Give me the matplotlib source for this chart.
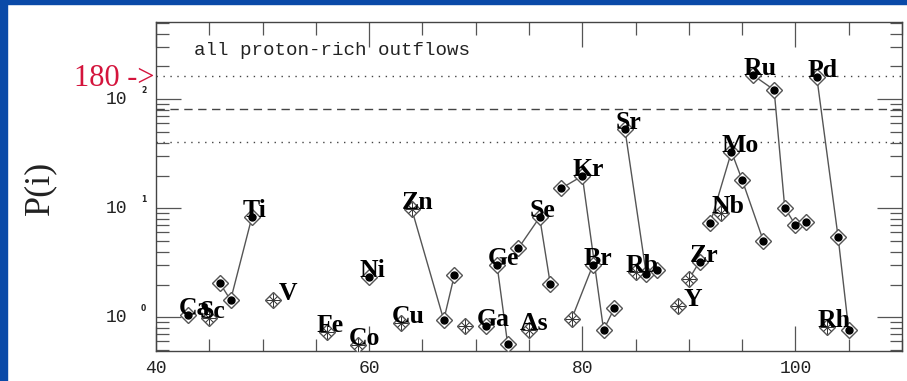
import matplotlib
matplotlib.use("Agg")
import matplotlib.pyplot as plt
import matplotlib.transforms as mtransforms
from matplotlib.patches import Rectangle
from matplotlib.ticker import MultipleLocator, LogLocator, NullFormatter, FixedLocator

# isotopes drawn with a filled dot (mass number, production factor)
dot_A = [43, 46, 47, 49, 60, 67, 68, 71, 72, 73, 74, 76, 77, 78, 80, 81, 82, 83,
         84, 86, 87, 91, 92, 94, 95, 97, 96, 98, 99, 100, 101, 102, 104, 105]
dot_P = [1.05, 2.05, 1.44, 8.3, 2.36, 0.945, 2.44, 0.84, 3.02, 0.565, 4.3, 8.27, 2.02,
         15.2, 19.8, 3.02, 0.765, 1.21, 53, 2.5, 2.74, 3.24, 7.28, 33, 18.2, 5.0,
         167, 122, 10.1, 7.03, 7.44, 161, 5.49, 0.765]

# isotopes drawn with a starred diamond
cross_A = [45, 51, 56, 59, 63, 64, 69, 75, 79, 85, 89, 90, 93, 103]
cross_P = [0.99, 1.44, 0.74, 0.557, 0.88, 9.8, 0.84, 0.77, 0.965, 2.6, 1.27, 2.23, 9.0, 0.82]

# isotopes of one element joined by a line
chains = [[46, 47, 49], [64, 67, 68], [72, 73], [74, 76, 77], [78, 80, 82, 83],
          [79, 81], [84, 86, 87], [90, 91], [92, 94, 95, 97],
          [96, 98, 99, 100, 101], [102, 104, 105]]

# element labels and the isotope they sit on
label_text = ["Ca", "Sc", "Ti", "V", "Fe", "Co", "Ni", "Cu", "Zn", "Ga", "Ge", "As",
              "Se", "Br", "Kr", "Sr", "Rb", "Y", "Zr", "Nb", "Mo", "Ru", "Rh", "Pd"]
label_A = [43, 45, 49, 51, 56, 59, 60, 63, 64, 71, 72, 75,
           76, 81, 80, 84, 85, 89, 91, 93, 94, 96, 103, 102]
label_right = ["V", "Y"]

ref_levels = [164, 82, 41]
ref_styles = [(0, (1, 4)), (0, (6, 4)), (0, (1, 4))]

P_of = dict(zip(dot_A + cross_A, dot_P + cross_P))

W, H = 907, 381
fig = plt.figure(figsize=(W / 100, H / 100), dpi=100)
fig.patch.set_facecolor("white")
blue = "#0a4aa8"
fig.patches.append(Rectangle((0, 1 - 4 / H), 1, 4 / H, transform=fig.transFigure,
                             color=blue, zorder=0))
fig.patches.append(Rectangle((0, 0), 7 / W, 1, transform=fig.transFigure,
                             color=blue, zorder=0))

ax = fig.add_axes([156 / W, (H - 350.7) / H, (902 - 156) / W, (350.7 - 22) / H])
ax.set_yscale("log")
ax.set_xlim(40, 110)
ax.set_ylim(0.494, 512)

for lev, ls in zip(ref_levels, ref_styles):
    ax.axhline(lev, color="#444444", lw=1.0, ls=ls, zorder=1)

for ch in chains:
    ax.plot(ch, [P_of[a] for a in ch], color="#555555", lw=1.0, zorder=2)

ax.plot(dot_A + cross_A, dot_P + cross_P, ls="none", marker="D", ms=8,
        mfc="white", mec="#555555", mew=1.0, zorder=3)
ax.plot(dot_A, dot_P, ls="none", marker="o", ms=5, mfc="black", mec="black", zorder=4)
ax.plot(cross_A, cross_P, ls="none", marker="+", ms=10, mec="#333333", mew=0.7, zorder=4)
ax.plot(cross_A, cross_P, ls="none", marker="x", ms=6, mec="#333333", mew=0.7, zorder=4)

for txt, a in zip(label_text, label_A):
    dx = 0.5 if txt in label_right else -0.9
    ax.text(a + dx, P_of[a], txt, fontsize=18.5, fontweight="bold",
            family="Liberation Serif", ha="left", va="baseline", zorder=5)

ax.text(0.051, 0.90, "all proton-rich outflows", transform=ax.transAxes,
        family="Liberation Mono", fontsize=13.8, color="#222222", va="baseline")

ax.xaxis.set_major_locator(MultipleLocator(20))
ax.xaxis.set_minor_locator(MultipleLocator(5))
ax.yaxis.set_major_locator(FixedLocator([1, 10, 100]))
ax.yaxis.set_minor_locator(LogLocator(base=10, subs=range(2, 10)))
ax.yaxis.set_major_formatter(NullFormatter())
ax.yaxis.set_minor_formatter(NullFormatter())
ax.tick_params(which="both", direction="in", top=True, right=True,
               color="#555555", width=0.9, labelleft=False)
ax.tick_params(which="major", length=18)
ax.tick_params(which="minor", length=9)
ax.tick_params(axis="x", pad=7, labelsize=13, labelcolor="#222222")
for lab in ax.get_xticklabels():
    lab.set_family("Liberation Mono")
for sp in ax.spines.values():
    sp.set_color("#444444")
    sp.set_linewidth(1.0)

# y tick labels drawn as 10 with a small exponent
trans = mtransforms.blended_transform_factory(fig.transFigure, ax.transData)
for e in [0, 1, 2]:
    ax.text(127 / W, 10 ** e, "10", transform=trans, ha="right", va="center",
            family="Liberation Mono", fontsize=13, color="#222222")
    ax.text(141 / W, 10 ** (e + 0.08), str(e), transform=trans, ha="left", va="center",
            family="DejaVu Sans", fontsize=5.5, fontweight="bold", color="#222222")

fig.text(40 / W, (H - 188) / H, "P(i)", rotation=90, ha="center", va="center",
         family="Liberation Serif", fontsize=26, color="#222222")
fig.text(154 / W, (H - 86) / H, "180 ->", ha="right", va="baseline",
         family="Liberation Serif", fontsize=22, color="#d4143c")

fig.savefig("out.png", dpi=100, facecolor=fig.get_facecolor())
